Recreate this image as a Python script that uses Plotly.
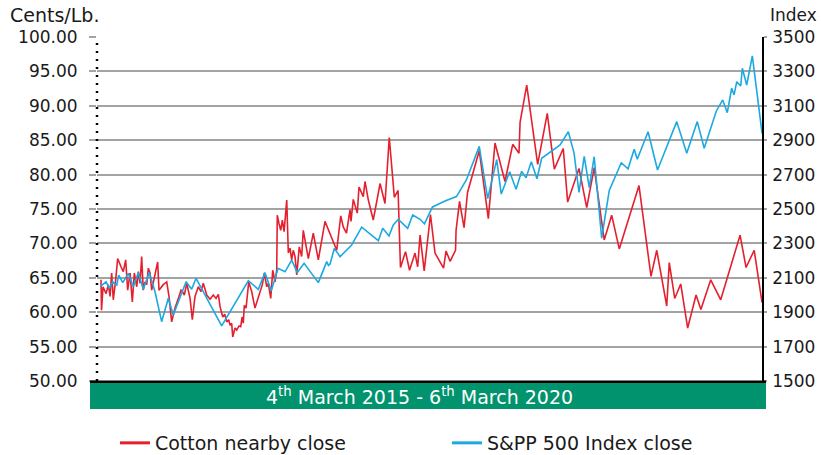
import plotly.graph_objects as go

# Cotton nearby close (cents/lb), x in decimal years
cotton_t = [2015.200, 2015.204, 2015.215, 2015.238, 2015.255, 2015.268, 2015.280, 2015.292, 2015.310, 2015.325,
            2015.350, 2015.367, 2015.385, 2015.400, 2015.418, 2015.435, 2015.450, 2015.468, 2015.480, 2015.493,
            2015.505, 2015.517, 2015.530, 2015.543, 2015.555, 2015.568, 2015.580, 2015.595, 2015.625, 2015.635,
            2015.667, 2015.693, 2015.710, 2015.730, 2015.755, 2015.780, 2015.800, 2015.810, 2015.825, 2015.843,
            2015.868, 2015.885, 2015.905, 2015.930, 2015.950, 2015.967, 2015.993, 2016.018, 2016.042, 2016.063,
            2016.080, 2016.093, 2016.113, 2016.128, 2016.143, 2016.158, 2016.168, 2016.180, 2016.188, 2016.205,
            2016.218, 2016.235, 2016.248, 2016.258, 2016.267, 2016.275, 2016.288, 2016.308, 2016.330, 2016.355,
            2016.380, 2016.393, 2016.410, 2016.425, 2016.443, 2016.455, 2016.473, 2016.488, 2016.505, 2016.518,
            2016.522, 2016.535, 2016.548, 2016.560, 2016.573, 2016.593, 2016.605, 2016.618, 2016.630, 2016.642,
            2016.655, 2016.668, 2016.680, 2016.687, 2016.705, 2016.717, 2016.755, 2016.792, 2016.830, 2016.880,
            2016.968, 2016.998, 2017.017, 2017.041, 2017.068, 2017.075, 2017.092, 2017.122, 2017.135, 2017.167,
            2017.180, 2017.205, 2017.242, 2017.293, 2017.330, 2017.362, 2017.400, 2017.428, 2017.446, 2017.484,
            2017.514, 2017.555, 2017.575, 2017.593, 2017.624, 2017.671, 2017.705, 2017.769, 2017.788, 2017.818,
            2017.859, 2017.863, 2017.889, 2017.923, 2017.949, 2018.037, 2018.105, 2018.155, 2018.230, 2018.288,
            2018.335, 2018.343, 2018.393, 2018.475, 2018.547, 2018.600, 2018.667, 2018.700, 2018.785, 2018.843,
            2018.899, 2018.974, 2019.030, 2019.087, 2019.235, 2019.325, 2019.368, 2019.443, 2019.462, 2019.503,
            2019.548, 2019.600, 2019.663, 2019.699, 2019.773, 2019.848, 2019.993, 2020.038, 2020.099, 2020.158]
cotton_v = [64.7, 60.3, 63.7, 62.7, 64.0, 62.3, 65.7, 61.8, 64.7, 67.8,
            66.6, 65.9, 67.6, 63.2, 65.7, 61.5, 65.7, 63.7, 65.9, 64.2,
            68.1, 63.2, 64.4, 64.0, 66.4, 65.7, 63.2, 64.6, 67.3, 63.2,
            64.0, 64.4, 62.3, 58.6, 60.6, 62.0, 63.2, 63.0, 62.5, 64.2,
            62.0, 58.9, 62.3, 63.7, 63.0, 64.2, 62.5, 61.9, 62.5, 62.0,
            62.6, 60.8, 59.3, 59.7, 58.6, 58.9, 58.1, 58.4, 56.4, 57.7,
            57.4, 58.0, 57.9, 59.3, 58.4, 61.0, 60.6, 64.4, 63.0, 60.6,
            62.3, 63.2, 64.0, 65.7, 63.7, 64.2, 62.0, 66.1, 64.4, 66.1,
            74.1, 72.9, 71.9, 73.4, 71.7, 76.3, 68.6, 69.3, 67.6, 69.0,
            68.1, 65.4, 68.6, 69.5, 68.1, 71.9, 67.8, 71.5, 67.6, 73.2,
            69.0, 74.0, 72.4, 71.5, 74.9, 73.2, 76.4, 74.4, 78.2, 76.8,
            79.0, 76.3, 73.4, 78.7, 75.8, 85.4, 76.7, 77.7, 66.5, 68.8,
            66.1, 68.6, 66.6, 71.2, 66.0, 74.2, 68.6, 66.4, 68.9, 67.4,
            69.0, 71.9, 76.1, 72.3, 77.4, 83.5, 73.6, 84.6, 79.0, 84.4,
            83.1, 87.6, 93.0, 81.5, 88.9, 80.8, 83.8, 76.0, 80.9, 75.2,
            81.0, 70.5, 74.1, 69.2, 78.4, 65.2, 69.0, 60.9, 67.2, 62.0,
            64.1, 57.7, 62.5, 60.4, 64.7, 61.8, 71.2, 66.5, 69.0, 61.4]

# S&P 500 index close, x in decimal years
spx_t = [2015.193, 2015.238, 2015.262, 2015.288, 2015.318, 2015.333, 2015.363, 2015.405, 2015.442, 2015.480,
         2015.517, 2015.562, 2015.605, 2015.655, 2015.705, 2015.742, 2015.838, 2015.880, 2015.913, 2016.105,
         2016.305, 2016.380, 2016.430, 2016.477, 2016.528, 2016.580, 2016.630, 2016.672, 2016.723, 2016.830,
         2016.893, 2016.906, 2016.918, 2016.950, 2016.993, 2017.080, 2017.155, 2017.280, 2017.313, 2017.360,
         2017.392, 2017.430, 2017.500, 2017.538, 2017.593, 2017.626, 2017.686, 2017.780, 2017.866, 2017.941,
         2018.037, 2018.100, 2018.168, 2018.202, 2018.265, 2018.313, 2018.355, 2018.388, 2018.427, 2018.470,
         2018.505, 2018.643, 2018.705, 2018.748, 2018.785, 2018.824, 2018.862, 2018.899, 2018.955, 2019.012,
         2019.102, 2019.153, 2019.199, 2019.222, 2019.303, 2019.374, 2019.518, 2019.593, 2019.672, 2019.724,
         2019.815, 2019.863, 2019.897, 2019.930, 2019.948, 2019.968, 2019.998, 2020.010, 2020.043, 2020.085,
         2020.158]
spx_v = [2048, 2077, 2039, 2077, 2058, 2116, 2072, 2126, 2048, 2130,
         2033, 2130, 2019, 1845, 1981, 1884, 2077, 2033, 2097, 1820,
         2083, 2033, 2130, 2024, 2155, 2135, 2203, 2130, 2184, 2072,
         2194, 2172, 2180, 2271, 2223, 2291, 2394, 2316, 2388, 2343,
         2407, 2440, 2388, 2465, 2440, 2413, 2512, 2547, 2572, 2670,
         2864, 2560, 2787, 2587, 2717, 2615, 2719, 2681, 2775, 2676,
         2795, 2872, 2949, 2825, 2596, 2806, 2625, 2804, 2330, 2608,
         2769, 2734, 2847, 2789, 2949, 2727, 3008, 2824, 3008, 2853,
         3070, 3134, 3060, 3202, 3163, 3240, 3215, 3318, 3221, 3390,
         2940]

left_ticks = [50, 55, 60, 65, 70, 75, 80, 85, 90, 95, 100]
right_ticks = [1500, 1700, 1900, 2100, 2300, 2500, 2700, 2900, 3100, 3300, 3500]

RED = "#E5202E"
BLUE = "#1CA9E2"
GREEN = "#00936E"
GRID = "#A3A3A3"
FONT = "DejaVu Sans"
TXT = "#1a1a1a"
FS = 17      # tick labels
FT = 19      # other texts

fig = go.Figure()
fig.add_trace(go.Scatter(x=cotton_t, y=cotton_v, mode="lines", name="Cotton nearby close",
                         line=dict(color=RED, width=1.6), yaxis="y", showlegend=False))
fig.add_trace(go.Scatter(x=spx_t, y=spx_v, mode="lines", name="S&PP 500 Index close",
                         line=dict(color=BLUE, width=1.6), yaxis="y2", showlegend=False))
# legend entries (thicker sample lines as in the reference)
fig.add_trace(go.Scatter(x=[None], y=[None], mode="lines", name="Cotton nearby close",
                         line=dict(color=RED, width=3), yaxis="y"))
fig.add_trace(go.Scatter(x=[None], y=[None], mode="lines", name="S&PP 500 Index close",
                         line=dict(color=BLUE, width=3), yaxis="y2"))

fig.update_layout(
    width=821, height=455,
    margin=dict(l=97, r=59, t=37, b=74, autoexpand=False),
    paper_bgcolor="white", plot_bgcolor="white",
    font=dict(family=FONT, size=FS, color=TXT),
    xaxis=dict(range=[2015.17, 2020.1575], visible=False, showgrid=False, zeroline=False,
               automargin=False),
    yaxis=dict(range=[50, 100], tickvals=left_ticks, ticktext=[f"{v:.2f}" for v in left_ticks],
               showgrid=True, gridcolor=GRID, gridwidth=1.5, zeroline=False,
               ticks="outside", ticklen=7, tickcolor=GRID, tickwidth=1.5,
               ticklabelstandoff=8, showline=False, automargin=False,
               tickfont=dict(family=FONT, size=FS, color=TXT)),
    yaxis2=dict(range=[1500, 3500], tickvals=right_ticks, overlaying="y", side="right",
                showgrid=False, zeroline=False, ticks="outside", ticklen=3, tickcolor=GRID,
                tickwidth=1.5, showline=True, linecolor="black", linewidth=1.5,
                ticklabelstandoff=2, automargin=False,
                tickfont=dict(family=FONT, size=FS, color=TXT)),
    showlegend=True,
    legend=dict(orientation="h", x=0.027, xanchor="left", y=-0.125, yanchor="top",
                entrywidth=287, entrywidthmode="pixels", itemwidth=30,
                font=dict(family=FONT, size=FT, color=TXT), bgcolor="rgba(0,0,0,0)"),
)

# dotted left axis
fig.add_shape(type="line", xref="paper", yref="paper", x0=0, x1=0, y0=0, y1=1,
              line=dict(color="black", width=2.5, dash="2px,6px"))
# green date band
fig.add_shape(type="rect", xref="paper", yref="paper", x0=-0.0105, x1=1.006, y0=-0.0814, y1=-0.004,
              fillcolor=GREEN, line=dict(width=0), layer="above")
# thick bottom baseline
fig.add_shape(type="line", xref="paper", yref="paper", x0=-0.0105, x1=1.006, y0=-0.002, y1=-0.002,
              line=dict(color="black", width=2.5))

fig.add_annotation(xref="paper", yref="paper", x=0.485, y=-0.043, showarrow=False,
                   text="4<sup>th</sup> March 2015 - 6<sup>th</sup> March 2020",
                   font=dict(family=FONT, size=FT, color="white"), yanchor="middle", xanchor="center")
fig.add_annotation(xref="paper", yref="paper", x=-0.134, y=1.064, xanchor="left", yanchor="middle",
                   showarrow=False, text="Cents/Lb.", font=dict(family=FONT, size=FT, color=TXT))
fig.add_annotation(xref="paper", yref="paper", x=1.009, y=1.064, xanchor="left", yanchor="middle",
                   showarrow=False, text="Index", font=dict(family=FONT, size=FS, color=TXT))

fig.write_html("out.html", config={"displayModeBar": False},
               post_script="document.body.style.margin='0';document.body.style.overflow='hidden';")
